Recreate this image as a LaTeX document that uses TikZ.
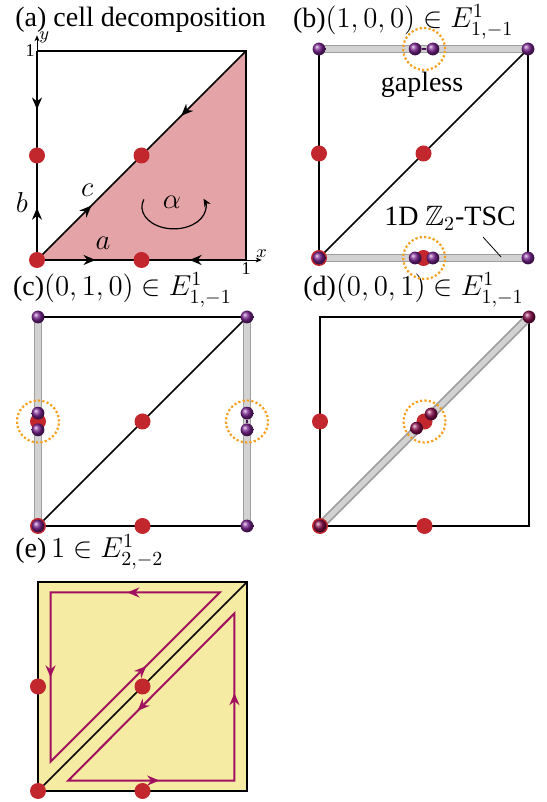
\documentclass[tikz,border=0pt]{standalone}
\usepackage{amsmath,amssymb}
\usepackage{fontspec}
\setmainfont{Liberation Serif}
\usetikzlibrary{arrows.meta,decorations.markings,calc}

\definecolor{dotred}{HTML}{C1272D}
\definecolor{cellpink}{HTML}{E4A3A6}
\definecolor{cellyellow}{HTML}{F5EBA2}
\definecolor{loopmag}{HTML}{A0105E}
\definecolor{ringorange}{HTML}{F5A01E}
\definecolor{ballc}{HTML}{7A2390}
\definecolor{ballm}{HTML}{8A0F4E}

\tikzset{
  edge/.style={line width=1pt},
  diag/.style={line width=0.8pt},
  tube/.style={line width=4.4pt, draw=gray!75, postaction={draw=gray!35, line width=2.6pt}},
  reddot/.style={circle, fill=dotred, inner sep=0pt, minimum size=8pt},
  ball/.style={circle, inner sep=0pt, minimum size=6.4pt, ball color=ballc},
  mball/.style={circle, inner sep=0pt, minimum size=6.4pt, ball color=ballm},
  gapring/.style={circle, draw=ringorange, line width=1.1pt, dash pattern=on 1.1pt off 1.1pt, minimum size=21pt, inner sep=0pt},
  ttl/.style={anchor=base west, inner sep=0pt},
  axlab/.style={font=\fontsize{9}{10}\selectfont, inner sep=1pt},
  arrowat/.style={postaction={decorate, decoration={markings, mark=at position #1 with {\arrow{Stealth[length=6pt,width=5pt]}}}}},
  arrowback/.style={postaction={decorate, decoration={markings, mark=at position #1 with {\arrowreversed{Stealth[length=6pt,width=5pt]}}}}},
}

\begin{document}
\begin{tikzpicture}[x=104.5pt, y=104.5pt, font=\fontsize{14}{16}\selectfont]
\useasboundingbox (0pt,0pt) rectangle (273pt,401pt);

% titles
\node[ttl] (ta) at (7.5pt,387.5pt) {(a) cell decomposition};
\node[ttl] (tb) at (146.3pt,387pt) {(b)$(1,0,0)\in E^1_{1,-1}$};
\node[ttl] (tc) at (6.3pt,253pt) {(c)$(0,1,0)\in E^1_{1,-1}$};
\node[ttl] (td) at (151.5pt,253pt) {(d)$(0,0,1)\in E^1_{1,-1}$};
\node[ttl] (te) at (7.5pt,122pt) {(e)\,$1\in E^1_{2,-2}$};

% (a) cell decomposition
\begin{scope}[shift={(18.5pt,271pt)}]
\coordinate (a00) at (0,0);
\coordinate (a10) at (1,0);
\coordinate (a11) at (1,1);
\coordinate (a01) at (0,1);
\fill[cellpink] (a00) -- (a10) -- (a11) -- cycle;
\draw[edge] (a01) -- (a11) -- (a10);
\draw[edge, arrowat=0.28, arrowback=0.73] (a00) -- (a10);
\draw[edge, arrowat=0.25, arrowback=0.72] (a00) -- (a01);
\draw[diag, arrowat=0.26, arrowback=0.69] (a00) -- (a11);
% axes
\draw[line width=0.4pt, -{Stealth[length=3pt,width=2.5pt]}] (a01) -- ++(0,0.075) coordinate (ytip);
\node[axlab, right] (ylab) at ($(ytip)+(0,-0.01)$) {$y$};
\node[axlab, left] (yone) at (a01) {1};
\draw[line width=0.4pt, -{Stealth[length=3pt,width=2.5pt]}] (a10) -- ++(0.075,0) coordinate (xtip);
\node[axlab, above] (xlab) at (xtip) {$x$};
\node[axlab, below] (xone) at (a10) {1};
% points
\node[reddot] (ra1) at (0,0) {};
\node[reddot] (ra2) at (0.5,0) {};
\node[reddot] (ra3) at (0,0.5) {};
\node[reddot] (ra4) at (0.5,0.5) {};
% labels
\node (lb) at (-0.072,0.273) {$b$};
\node (lc) at (0.24,0.335) {$c$};
\node (la) at (0.316,0.081) {$a$};
\node (lal) at (0.646,0.278) {$\alpha$};
\coordinate (alc) at (0.655,0.254);
\draw[line width=0.6pt, -{Stealth[length=4pt,width=3.5pt]}] ([shift={(160:0.153 and 0.105)}]alc)
  arc[start angle=160, end angle=382, x radius=0.153, y radius=0.105];
\end{scope}

% (b) (1,0,0)
\begin{scope}[shift={(159.5pt,272pt)}]
\coordinate (b00) at (0,0);
\coordinate (b10) at (1,0);
\coordinate (b11) at (1,1);
\coordinate (b01) at (0,1);
\draw[edge] (b00) -- (b01);
\draw[edge] (b10) -- (b11);
\draw[diag] (b00) -- (b11);
\draw[tube] (b01) -- (b11);
\draw[tube] (b00) -- (b10);
\node[reddot] (rb1) at (0,0) {};
\node[reddot] (rb2) at (0.5,0) {};
\node[reddot] (rb3) at (0,0.5) {};
\node[reddot] (rb4) at (0.5,0.5) {};
\node[ball] (pb1) at (b00) {};
\node[ball] (pb2) at (b10) {};
\node[ball] (pb3) at (b11) {};
\node[ball] (pb4) at (b01) {};
\node[ball] (pb5) at (0.46,1) {};
\node[ball] (pb6) at (0.545,1) {};
\node[ball] (pb7) at (0.46,0) {};
\node[ball] (pb8) at (0.545,0) {};
\draw[line width=0.8pt, ballc!60!black] (pb5) -- (pb6);
\node[gapring] (gb1) at (0.503,1) {};
\node[gapring] (gb2) at (0.503,0) {};
\node (gapl) at (0.493,0.828) {gapless};
\node (tsc) at (0.627,0.19) {1D $\mathbb{Z}_2$-TSC};
\coordinate (tscA) at (0.785,0.10);
\coordinate (tscB) at (0.871,0.005);
\draw[line width=0.4pt] (tscA) -- (tscB);
\end{scope}

% (c) (0,1,0)
\begin{scope}[shift={(19pt,138pt)}]
\coordinate (c00) at (0,0);
\coordinate (c10) at (1,0);
\coordinate (c11) at (1,1);
\coordinate (c01) at (0,1);
\draw[edge] (c00) -- (c10);
\draw[edge] (c01) -- (c11);
\draw[diag] (c00) -- (c11);
\draw[tube] (c00) -- (c01);
\draw[tube] (c10) -- (c11);
\node[reddot] (rc1) at (0,0) {};
\node[reddot] (rc2) at (0.5,0) {};
\node[reddot] (rc3) at (0,0.5) {};
\node[reddot] (rc4) at (0.5,0.5) {};
\node[ball] (pc1) at (c00) {};
\node[ball] (pc2) at (c10) {};
\node[ball] (pc3) at (c11) {};
\node[ball] (pc4) at (c01) {};
\node[ball] (pc5) at (0,0.54) {};
\node[ball] (pc6) at (0,0.46) {};
\node[ball] (pc7) at (1,0.54) {};
\node[ball] (pc8) at (1,0.46) {};
\draw[line width=0.8pt, ballc!60!black] (pc7) -- (pc8);
\node[gapring] (gc1) at (0,0.5) {};
\node[gapring] (gc2) at (1,0.5) {};
\end{scope}

% (d) (0,0,1)
\begin{scope}[shift={(160pt,138pt)}]
\coordinate (d00) at (0,0);
\coordinate (d10) at (1,0);
\coordinate (d11) at (1,1);
\coordinate (d01) at (0,1);
\draw[edge] (d00) -- (d10) -- (d11) -- (d01) -- cycle;
\draw[tube] (d00) -- (d11);
\node[reddot] (rd1) at (0,0) {};
\node[reddot] (rd2) at (0.5,0) {};
\node[reddot] (rd3) at (0,0.5) {};
\node[reddot] (rd4) at (0.5,0.5) {};
\node[mball] (pd1) at (d00) {};
\node[mball] (pd2) at (d11) {};
\node[mball] (pd3) at (0.462,0.468) {};
\node[mball] (pd4) at (0.532,0.536) {};
\node[gapring] (gd1) at (0.5,0.5) {};
\end{scope}

% (e) 1 in E^1_{2,-2}
\begin{scope}[shift={(19pt,5.5pt)}]
\coordinate (e00) at (0,0);
\coordinate (e10) at (1,0);
\coordinate (e11) at (1,1);
\coordinate (e01) at (0,1);
\fill[cellyellow] (e00) rectangle (e11);
\draw[edge] (e00) -- (e10) -- (e11) -- (e01) -- cycle;
\draw[diag] (e00) -- (e11);
\draw[loopmag, line width=1pt, line join=miter, arrowat=0.16, arrowat=0.44, arrowat=0.82]
  (0.87,0.95) -- (0.06,0.95) -- (0.06,0.14) -- cycle;
\draw[loopmag, line width=1pt, line join=miter, arrowat=0.16, arrowat=0.446, arrowat=0.828]
  (0.145,0.05) -- (0.94,0.05) -- (0.94,0.85) -- cycle;
\node[reddot] (re1) at (0,0) {};
\node[reddot] (re2) at (0.5,0) {};
\node[reddot] (re3) at (0,0.5) {};
\node[reddot] (re4) at (0.5,0.5) {};
\end{scope}
\end{tikzpicture}
\end{document}
